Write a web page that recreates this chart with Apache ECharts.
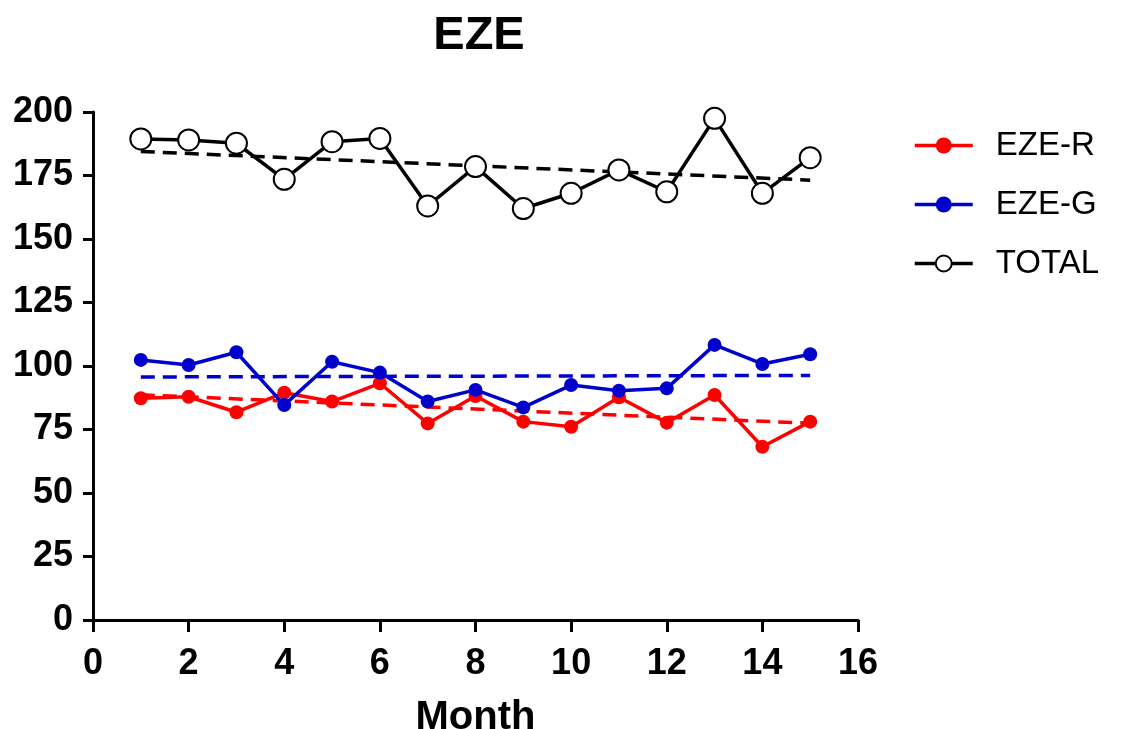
<!DOCTYPE html>
<html><head><meta charset="utf-8">
<script src="https://cdn.jsdelivr.net/npm/echarts@6/dist/echarts.min.js"></script>
<style>html,body{margin:0;padding:0;background:#fff}#c{width:1125px;height:729px}</style>
</head><body><div id="c"></div>
<script>
const months = [1,2,3,4,5,6,7,8,9,10,11,12,13,14,15];
const ezeR = [87.3,87.9,81.8,89.5,86,93.2,77.4,88.2,78.1,76.1,87.7,77.7,88.6,68.2,78.1];
const ezeG = [102.4,100.4,105.4,84.6,101.7,97.4,86,90.6,83.7,92.5,90.3,91.2,108.3,100.8,104.6];
const total = [189.4,189,187.7,173.5,188.3,189.6,163,178.5,162,168,177.2,168.6,197.5,168,182];
const yTicks = [0,25,50,75,100,125,150,175,200];
const xTicks = [0,2,4,6,8,10,12,14,16];

function fit(ys){
  const n=ys.length, mx=months.reduce((a,b)=>a+b)/n, my=ys.reduce((a,b)=>a+b)/n;
  let sxy=0,sxx=0; for(let i=0;i<n;i++){sxy+=(months[i]-mx)*(ys[i]-my);sxx+=(months[i]-mx)**2;}
  const b=sxy/sxx, a=my-b*mx;
  const x0=months[0], x1=months[n-1];
  return [[x0,a+b*x0],[x1,a+b*x1]];
}
const pair = ys => months.map((m,i)=>[m,ys[i]]);
const RED='#FF0000', BLUE='#0000CC', BLACK='#000000';
const font='Liberation Sans, Arial, sans-serif';
const chart = echarts.init(document.getElementById('c'));
function trend(ys,color){
  return {type:'line',data:fit(ys),symbol:'none',silent:true,z:1,
    lineStyle:{color,width:3.5,type:[14,8]}};
}
chart.setOption({
  animation:false,
  title:{text:'EZE',left:474,top:8,textAlign:'center',
    textStyle:{fontFamily:font,fontWeight:'bold',fontSize:47,color:'#000'}},
  grid:{left:93,right:267,top:112,bottom:109,containLabel:false,outerBoundsMode:'none'},
  legend:{orient:'vertical',left:908,top:124,itemWidth:58,itemHeight:20,itemGap:26,
    data:['EZE-R','EZE-G',{name:'TOTAL',itemStyle:{borderWidth:3.5}}],
    lineStyle:{width:3.5},
    textStyle:{fontFamily:font,fontSize:33,color:'#000',padding:[0,0,0,18]}},
  xAxis:{type:'value',min:0,max:16,interval:2,
    name:'Month',nameLocation:'middle',nameGap:78,
    nameTextStyle:{fontFamily:font,fontWeight:'bold',fontSize:40,color:'#000'},
    axisLine:{show:true,onZero:false,lineStyle:{color:'#000',width:3}},
    axisTick:{show:true,length:12,lineStyle:{color:'#000',width:3}},
    axisLabel:{fontFamily:font,fontWeight:'bold',fontSize:36,color:'#000',margin:26,
      formatter:v=>xTicks.includes(v)?String(v):''},
    splitLine:{show:false}},
  yAxis:{type:'value',min:0,max:200,interval:25,
    axisLine:{show:true,lineStyle:{color:'#000',width:3}},
    axisTick:{show:true,length:10,lineStyle:{color:'#000',width:3}},
    axisLabel:{fontFamily:font,fontWeight:'bold',fontSize:36,color:'#000',margin:20,
      formatter:v=>yTicks.includes(v)?String(v):''},
    splitLine:{show:false}},
  series:[
    trend(ezeR,RED),trend(ezeG,BLUE),trend(total,BLACK),
    {name:'EZE-R',type:'line',data:pair(ezeR),symbol:'circle',symbolSize:14,z:3,
      itemStyle:{color:RED},lineStyle:{color:RED,width:3.5}},
    {name:'EZE-G',type:'line',data:pair(ezeG),symbol:'circle',symbolSize:14,z:3,
      itemStyle:{color:BLUE},lineStyle:{color:BLUE,width:3.5}},
    {name:'TOTAL',type:'line',data:pair(total),symbol:'emptyCircle',symbolSize:21,z:3,
      itemStyle:{color:BLACK,borderColor:BLACK,borderWidth:3.5},lineStyle:{color:BLACK,width:3.5}}
  ]
});
</script></body></html>
